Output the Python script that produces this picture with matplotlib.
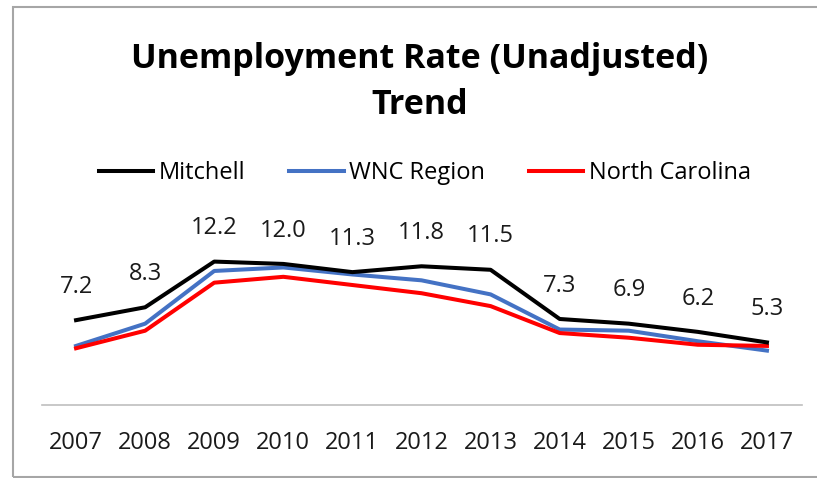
import matplotlib.pyplot as plt
from matplotlib.patches import Rectangle

plt.rcParams['font.family'] = ['Open Sans', 'DejaVu Sans']

# Unemployment rate, unadjusted (%)
years = ['2007', '2008', '2009', '2010', '2011', '2012', '2013', '2014', '2015', '2016', '2017']
mitchell = [7.2, 8.3, 12.2, 12.0, 11.3, 11.8, 11.5, 7.3, 6.9, 6.2, 5.3]
wnc_region = [5.0, 6.9, 11.4, 11.7, 11.1, 10.6, 9.4, 6.4, 6.3, 5.4, 4.6]
north_carolina = [4.8, 6.3, 10.4, 10.9, 10.2, 9.5, 8.4, 6.1, 5.7, 5.1, 5.0]

fig = plt.figure(figsize=(8.17, 4.78), dpi=100)
W, H = 817, 478
ax = fig.add_axes([41.5 / W, 1 - 404.5 / H, 760 / W, 164 / H])

x = range(len(years))
ax.plot(x, wnc_region, color='#4472C4', lw=2.9, label='WNC Region', zorder=2)
ax.plot(x, north_carolina, color='#FF0000', lw=2.9, label='North Carolina', zorder=3)
ax.plot(x, mitchell, color='black', lw=2.9, label='Mitchell', zorder=4)

# value labels for Mitchell only
for i, v in enumerate(mitchell):
    ax.annotate(f'{v:.1f}', (i, v), xytext=(0, 24), textcoords='offset points',
                ha='center', va='center', fontsize=17, color='#1a1a1a')

ax.set_xlim(-0.5, len(years) - 0.5)
ax.set_ylim(0, 14)
ax.set_xticks(list(x))
ax.set_xticklabels(years, fontsize=17, color='#1a1a1a')
ax.tick_params(axis='x', length=0, pad=19)
ax.set_yticks([])
for s in ['top', 'right', 'left']:
    ax.spines[s].set_visible(False)
ax.spines['bottom'].set_color('#BFBFBF')
ax.spines['bottom'].set_linewidth(1.2)

# title
fig.text(420 / W, 1 - 59 / H, 'Unemployment Rate (Unadjusted)', ha='center', va='center',
         fontsize=24.5, fontweight='bold')
fig.text(420 / W, 1 - 105 / H, 'Trend', ha='center', va='center',
         fontsize=24.5, fontweight='bold')

# legend
handles, labels = ax.get_legend_handles_labels()
order = [2, 0, 1]
fig.legend([handles[i] for i in order], [labels[i] for i in order],
           loc='center', bbox_to_anchor=(425 / W, 1 - 173 / H), ncol=3, frameon=False,
           fontsize=17, handlelength=2.3, handletextpad=0.25, columnspacing=1.85)

# chart border (right edge runs off the image)
fig.patches.append(Rectangle((13 / W, 1 - 477 / H), 1.0, 470 / H, transform=fig.transFigure,
                             fill=False, edgecolor='#A6A6A6', lw=1.5))

fig.savefig('out.png', dpi=100)
